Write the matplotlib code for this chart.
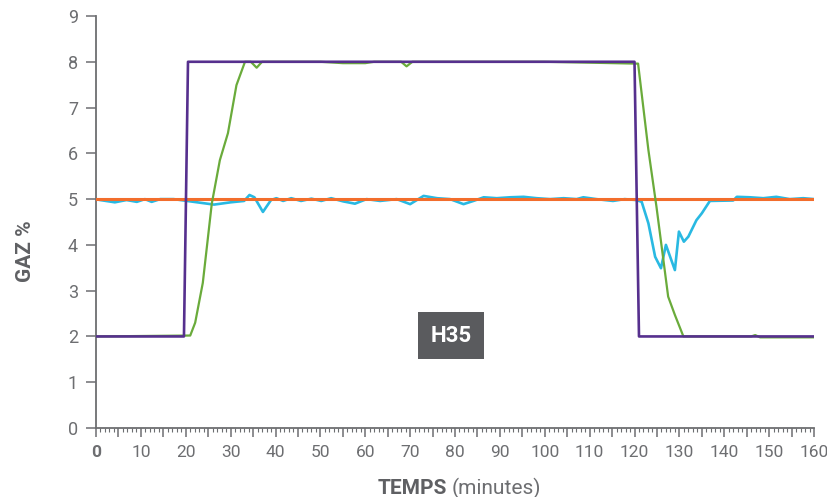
import matplotlib
matplotlib.use("Agg")
import matplotlib.pyplot as plt
from matplotlib.ticker import MultipleLocator

plt.rcParams['font.family'] = ['Roboto', 'DejaVu Sans']

GRAY = '#6d6e71'

# consigne (purple)
set_x = [0, 19.6, 20.5, 120.0, 121.0, 160]
set_y = [2, 2, 8, 8, 2, 2]

# mesure green
green_x = [0, 21, 22.1, 23.8, 25.8, 27.6, 29.4, 31.3, 33.2, 34.5, 35.8, 37, 50, 55, 60, 62,
           68, 69.2, 70.5, 80, 100, 120.3, 120.8, 123.1, 124.9, 127.5, 129, 130.9, 146,
           146.9, 148, 160]
green_y = [2, 2.02, 2.3, 3.17, 4.9, 5.85, 6.44, 7.49, 8.0, 8.0, 7.87, 8.0, 8.0, 7.97, 7.97, 8.0,
           8.0, 7.9, 8.0, 8.0, 8.0, 7.96, 7.96, 6.07, 4.83, 2.87, 2.47, 2.0, 2.0,
           2.03, 1.98, 1.98]

# mesure blue
blue_x = [0, 0.9, 4.2, 6.8, 9.1, 10.9, 12.4, 14.3, 17.3, 20.3, 23.3, 26.3, 30, 33, 34.2, 35.3,
          37.2, 39, 40.2, 41.7, 43.5, 45.7, 48, 50.2, 52.4, 55.1, 57.7, 60.3, 63.3, 67, 70,
          73, 76, 78.9, 81.9, 84.1, 86.4, 89.3, 92.3, 95.3, 98.2, 101.2, 104.2, 107.1,
          108.6, 111.5, 115.2, 117.8, 120.4, 121.6, 123.1, 124.6, 125.9, 127, 129, 129.9,
          131, 132, 133.8, 135, 136.8, 142, 142.8, 145.7, 148.7, 151.6, 154.6, 157.6, 160]
blue_y = [5.0, 4.98, 4.93, 4.98, 4.94, 5.0, 4.94, 5.0, 5.0, 4.96, 4.92, 4.88, 4.93, 4.96, 5.09, 5.04,
          4.72, 4.98, 5.02, 4.96, 5.02, 4.96, 5.01, 4.96, 5.02, 4.95, 4.9, 5.0, 4.96, 5.0, 4.89,
          5.07, 5.02, 5.0, 4.89, 4.96, 5.04, 5.02, 5.04, 5.05, 5.02, 5.0, 5.02, 5.0,
          5.04, 5.0, 4.96, 5.0, 4.98, 4.94, 4.47, 3.74, 3.49, 4.0, 3.45, 4.29,
          4.07, 4.18, 4.54, 4.69, 4.96, 4.97, 5.05, 5.04, 5.02, 5.05, 5.0, 5.02, 5.0]

# reference orange
ref_x = [0, 160]
ref_y = [5, 5]

x_ticks = list(range(0, 161, 5))
x_labels = [str(v) if v % 10 == 0 else '' for v in x_ticks]

fig = plt.figure(figsize=(8.27, 4.97), dpi=100)
ax = fig.add_axes([96 / 827, 1 - 428 / 497, (814 - 96) / 827, (428 - 16) / 497])

ax.plot(blue_x, blue_y, color='#29b9e2', lw=1.9, zorder=2)
ax.plot(ref_x, ref_y, color='#f26d2c', lw=2.2, zorder=3)
ax.plot(green_x, green_y, color='#6aab3b', lw=1.6, zorder=4)
ax.plot(set_x, set_y, color='#56308e', lw=1.9, zorder=5)

ax.set_xlim(0, 160)
ax.set_ylim(0, 9)
ax.set_xticks(x_ticks)
ax.set_xticklabels(x_labels)
ax.xaxis.set_minor_locator(MultipleLocator(1))
ax.yaxis.set_major_locator(MultipleLocator(1))

for s in ['top', 'right']:
    ax.spines[s].set_visible(False)
for s in ['left', 'bottom']:
    ax.spines[s].set_color(GRAY)
    ax.spines[s].set_linewidth(1.3)

ax.tick_params(axis='x', which='major', length=6.5, width=1.1, color=GRAY,
               labelcolor=GRAY, labelsize=12.5, pad=6)
ax.tick_params(axis='x', which='minor', length=3, width=0.8, color=GRAY)
ax.tick_params(axis='y', which='major', length=7, width=1.1, color=GRAY,
               labelcolor=GRAY, labelsize=13, pad=6)

ax.get_xticklabels()[0].set_fontweight('bold')

ax.set_ylabel('GAZ %', color='#5f6063', fontsize=15, fontweight='bold')
ax.yaxis.set_label_coords(-0.085, 0.43)

fig.text(447 / 827, 1 - 488 / 497, 'TEMPS', ha='right', va='center',
         color='#5f6063', fontsize=15, fontweight='bold')
fig.text(452 / 827, 1 - 488 / 497, '(minutes)', ha='left', va='center',
         color=GRAY, fontsize=15)

ax.text(79.1, 2.02, 'H35', ha='center', va='center', color='white',
        fontsize=16, fontweight='bold', zorder=6,
        bbox=dict(boxstyle='square,pad=0.55', facecolor='#5a5b5e', edgecolor='none'))

fig.savefig('out.png', dpi=100)
